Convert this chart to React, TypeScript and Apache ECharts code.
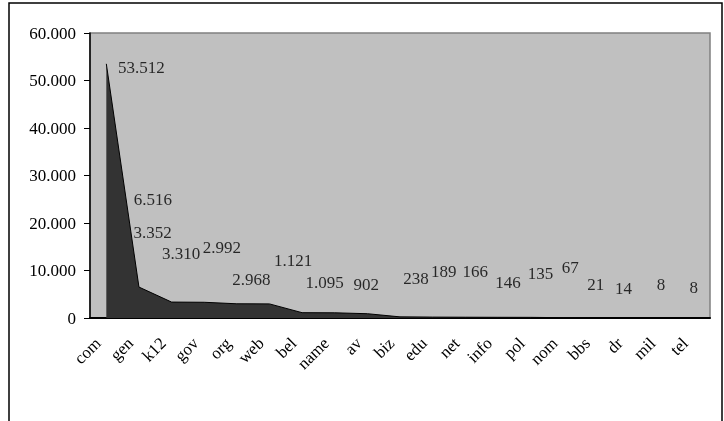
import React, { useEffect, useRef } from "react";
import * as echarts from "echarts";

const categories = ["com", "gen", "k12", "gov", "org", "web", "bel", "name", "av", "biz", "edu", "net", "info", "pol", "nom", "bbs", "dr", "mil", "tel"];
const values = [53512, 6516, 3352, 3310, 2992, 2968, 1121, 1095, 902, 238, 189, 166, 146, 135, 67, 21, 14, 8, 8];
const yTicks = { min: 0, max: 60000, interval: 10000 };
// label offsets (px) relative to each data point, as placed in the original
const labelOffsets: [number, number][] = [
  [35, 4], [14, -88], [-19, -70], [-23, -49], [-15, -56], [-18, -24], [-9, -52], [-10, -30], [-1, -29],
  [16, -38], [11, -46], [10, -46], [10, -35], [10, -44], [7, -50], [0, -33], [-5, -29], [0, -33], [0, -30],
];

const fmt = (v: number) => String(v).replace(/\B(?=(\d{3})+(?!\d))/g, ".");
const FONT = "'Liberation Serif', 'Times New Roman', serif";

export default function App() {
  const ref = useRef<HTMLDivElement>(null);
  useEffect(() => {
    const chart = echarts.init(ref.current!, undefined, { renderer: "svg" });
    chart.setOption({
      animation: false,
      textStyle: { fontFamily: FONT },
      grid: {
        left: 90, right: 14, top: 33, bottom: 103,
        show: true, backgroundColor: "#C0C0C0", borderColor: "#808080", borderWidth: 1.5,
      },
      graphic: [
        { type: "rect", z: -10, shape: { x: 9, y: 3, width: 713, height: 440 }, style: { fill: "#fff", stroke: "#000", lineWidth: 1.5 } },
      ],
      xAxis: {
        type: "category",
        data: categories,
        boundaryGap: true,
        axisLine: { lineStyle: { color: "#000", width: 2 } },
        axisTick: { length: 5, lineStyle: { color: "#000" } },
        axisLabel: { rotate: 45, margin: 14, padding: [0, 12, 0, 0], fontSize: 17, color: "#000", fontFamily: FONT, interval: 0 },
      },
      yAxis: {
        type: "value",
        min: yTicks.min, max: yTicks.max, interval: yTicks.interval,
        splitLine: { show: false },
        axisLine: { show: true, lineStyle: { color: "#000", width: 1.5 } },
        axisTick: { show: true, length: 6, lineStyle: { color: "#000" } },
        axisLabel: { fontSize: 17, color: "#000", margin: 14, fontFamily: FONT, formatter: (v: number) => fmt(v) },
      },
      series: [
        {
          type: "line",
          data: values,
          symbol: "none",
          lineStyle: { color: "#000", width: 1 },
          areaStyle: { color: "#333333", opacity: 1 },
          z: 2,
        },
        {
          type: "scatter",
          data: values.map((v, i) => ({
            value: v,
            label: { offset: labelOffsets[i] },
          })),
          symbolSize: 1,
          itemStyle: { color: "transparent" },
          label: {
            show: true,
            position: "inside",
            fontSize: 17,
            color: "#000",
            fontFamily: FONT,
            formatter: (p: any) => fmt(p.value),
          },
          z: 5,
        },
      ],
    });
    return () => chart.dispose();
  }, []);
  return <div ref={ref} style={{ position: "fixed", left: 0, top: 0, width: 724, height: 421 }} />;
}
